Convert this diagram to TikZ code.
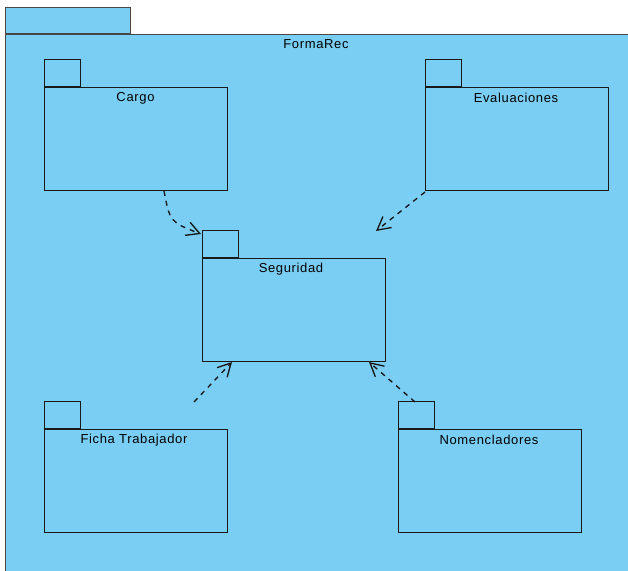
\documentclass[tikz,border=0pt]{standalone}
\usepackage{fontspec}
\newfontfamily\pkgfont[LetterSpace=5]{Liberation Sans}
\usetikzlibrary{arrows.meta}
\definecolor{pkgfill}{RGB}{122,206,244}
\definecolor{pkgline}{RGB}{25,25,25}
\tikzset{
  pkgbody/.style={draw=pkgline, fill=pkgfill, line width=1.35pt, anchor=north west,
    inner sep=0pt, minimum width=183pt, minimum height=103pt},
  pkgtab/.style={draw=pkgline, fill=pkgfill, line width=1.35pt, anchor=south west,
    inner sep=0pt, minimum width=36pt, minimum height=27pt},
  pkglabel/.style={font=\pkgfont\fontsize{13}{15}\selectfont, text=black, inner sep=0pt},
  depend/.style={draw=pkgline, line width=1.35pt, dash pattern=on 5pt off 5pt,
    -{Straight Barb[length=13pt,width=14pt,line width=1.35pt]}},
}
\begin{document}
\begin{tikzpicture}[x=1pt,y=-1pt]
\useasboundingbox (0,0) rectangle (628,570);
\fill[white] (0,0) rectangle (628,570);

% enclosing package FormaRec
\node[draw=pkgline!80, fill=pkgfill, line width=1.35pt, anchor=north west, inner sep=0pt,
  minimum width=625pt, minimum height=545pt] (forma) at (5,34) {};
\node[draw=pkgline!80, fill=pkgfill, line width=1.35pt, anchor=south west, inner sep=0pt,
  minimum width=125pt, minimum height=26pt] (formatab) at (5,34) {};
\node[pkglabel] (formalbl) at (316,44.5) {FormaRec};

% nested packages
\node[pkgbody] (cargo) at (44,87) {};
\node[pkgtab] (cargotab) at (44,87) {};
\node[pkglabel] (cargolbl) at (135.5,98) {Cargo};

\node[pkgbody] (eval) at (425,87) {};
\node[pkgtab] (evaltab) at (425,87) {};
\node[pkglabel] (evallbl) at (516,98) {Evaluaciones};

\node[pkgbody] (seg) at (202,258) {};
\node[pkgtab] (segtab) at (202,258) {};
\node[pkglabel] (seglbl) at (291,269) {Seguridad};

\node[pkgbody] (ficha) at (44,429) {};
\node[pkgtab] (fichatab) at (44,429) {};
\node[pkglabel] (fichalbl) at (134,440) {Ficha Trabajador};

\node[pkgbody] (nomen) at (398,429) {};
\node[pkgtab] (nomentab) at (398,429) {};
\node[pkglabel] (nomenlbl) at (489,440) {Nomencladores};

% dependency end points
\coordinate (cargoout) at (164,191);
\coordinate (segin1) at (201,234);
\coordinate (evalout) at (425,192);
\coordinate (segin2) at (376,231);
\coordinate (fichaout) at (194,402);
\coordinate (segin3) at (232,362);
\coordinate (nomenout) at (415,402);
\coordinate (segin4) at (369,362);

% dependencies
\draw[depend] (cargoout) .. controls (170,222) .. (segin1);
\draw[depend] (evalout) -- (segin2);
\draw[depend] (fichaout) -- (segin3);
\draw[depend] (nomenout) -- (segin4);
\end{tikzpicture}
\end{document}
